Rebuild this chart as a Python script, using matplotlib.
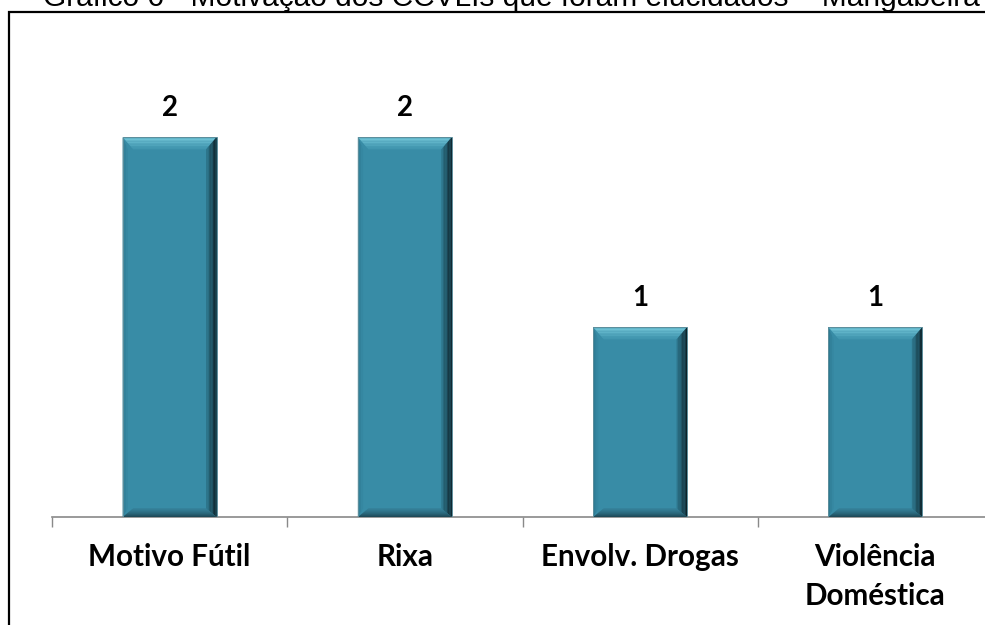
import matplotlib

matplotlib.use("Agg")
import numpy as np
from matplotlib import pyplot as plt
from matplotlib.colors import to_rgb
from matplotlib.patches import Polygon, Rectangle

# chart data
categories = ["Motivo Fútil", "Rixa", "Envolv. Drogas", "Violência\nDoméstica"]
values = [2, 2, 1, 1]
title = "Gráfico 6 - Motivação dos CCVLIs que foram elucidados – Mangabeira"

BAR_COLOR = "#388ca6"
# (outer edge colour, inner edge colour) for each bevel face
TOP_FACE = ("#78cadc", "#3d93ac")
RIGHT_FACE = ("#0a1c22", "#2f7a91")
BOTTOM_FACE = ("#1c4654", "#357f97")
LEFT_FACE = ("#2c7890", "#378aa4")


def _mix(c1, c2, t):
    a, b = np.array(to_rgb(c1)), np.array(to_rgb(c2))
    return tuple(a + (b - a) * t)


def _face(ax, o1, o2, i1, i2, colors, steps=8):
    """Fill a bevel face with a stepwise gradient from outer to inner edge."""
    o1, o2, i1, i2 = map(np.array, (o1, o2, i1, i2))
    for k in range(steps):
        t0, t1 = k / steps, (k + 1) / steps
        pts = [o1 + (i1 - o1) * t0, o2 + (i2 - o2) * t0, o2 + (i2 - o2) * t1, o1 + (i1 - o1) * t1]
        ax.add_patch(Polygon(pts, closed=True, facecolor=_mix(*colors, (t0 + t1) / 2),
                             edgecolor="none", zorder=3))


def add_bevel(ax, bar, bx=0.045, by_top=0.065, by_bot=0.045):
    """Draw a bevel on top of a bar patch."""
    x, w, h = bar.get_x(), bar.get_width(), bar.get_height()
    x2 = x + w
    _face(ax, (x, h), (x2, h), (x + bx, h - by_top), (x2 - bx, h - by_top), TOP_FACE)
    _face(ax, (x2, h), (x2, 0), (x2 - bx, h - by_top), (x2 - bx, by_bot), RIGHT_FACE)
    _face(ax, (x, 0), (x2, 0), (x + bx, by_bot), (x2 - bx, by_bot), BOTTOM_FACE)
    _face(ax, (x, 0), (x, h), (x + bx * 0.5, by_bot), (x + bx * 0.5, h - by_top), LEFT_FACE, steps=3)
    ax.add_patch(Rectangle((x, 0), w, h, facecolor="none", edgecolor="#5d8e9c", linewidth=0.7, zorder=4))


fig = plt.figure(figsize=(9.85, 6.25), dpi=100)
ax = fig.add_axes([52 / 985, 108 / 625, 941 / 985, 475 / 625])

positions = list(range(len(categories)))
bars = ax.bar(positions, values, width=0.40, color=BAR_COLOR, zorder=2)
for bar in bars:
    add_bevel(ax, bar)

for pos, val in zip(positions, values):
    ax.text(pos, val + 0.085, str(val), ha="center", va="bottom",
            fontsize=20, fontweight="bold", family="Lato")

ax.set_xlim(-0.5, len(categories) - 0.5)
ax.set_ylim(0, 2.5)
ax.set_xticks(positions)
ax.set_xticklabels(categories, fontsize=21.3, fontweight="bold", family="Lato", linespacing=1.48)
ax.tick_params(axis="x", which="major", length=0, pad=19)
ax.set_xticks([p - 0.5 for p in range(len(categories) + 1)], minor=True)
ax.tick_params(axis="x", which="minor", length=7, width=1, color="#898989", direction="out")
ax.set_yticks([])
for side in ["top", "left", "right"]:
    ax.spines[side].set_visible(False)
ax.spines["bottom"].set_color("#898989")
ax.spines["bottom"].set_linewidth(1.2)

# outer frame, cut at the right and bottom like the source image
fig.add_artist(Rectangle((8.5 / 985, -0.2), 1.2, 1.2 - 12 / 625, transform=fig.transFigure,
                         fill=False, edgecolor="black", linewidth=1.6, clip_on=False))

# title, mostly clipped above the image as in the source
fig.text(43 / 985, 1 - 6 / 625, title, ha="left", va="baseline", fontsize=21.5,
         family="Liberation Sans", color="black")

fig.savefig("out.png", dpi=100)
plt.close(fig)
